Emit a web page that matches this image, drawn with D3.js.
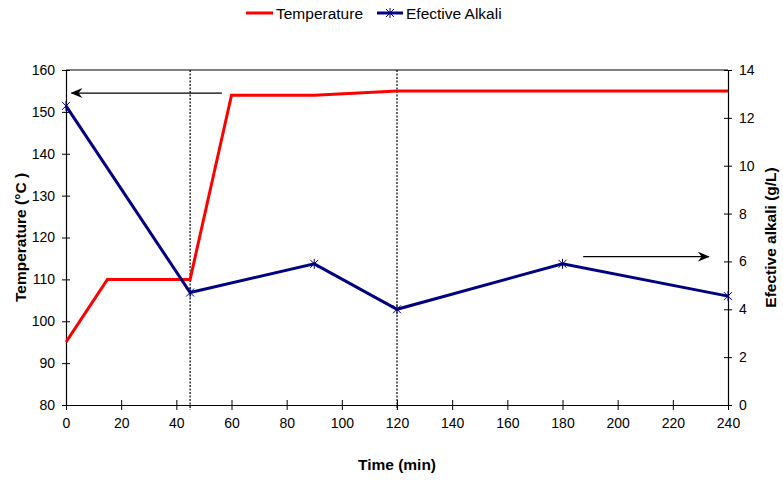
<!DOCTYPE html>
<html>
<head>
<meta charset="utf-8">
<script src="https://cdn.jsdelivr.net/npm/d3@7"></script>
<style>
body { margin: 0; background: #fff; }
text { font-family: Arial, "Liberation Sans", sans-serif; }
</style>
</head>
<body>
<div id="chart"></div>
<script>
var width = 783, height = 487

// data
const timeTicks = [0, 20, 40, 60, 80, 100, 120, 140, 160, 180, 200, 220, 240]
const tempTicks = [80, 90, 100, 110, 120, 130, 140, 150, 160]
const alkaliTicks = [0, 2, 4, 6, 8, 10, 12, 14]

const tempTime = [0, 15, 45, 60, 90, 120, 240]
const tempValues = [95, 110, 110, 154, 154, 155, 155]

const alkaliTime = [0, 45, 90, 120, 180, 240]
const alkaliValues = [12.5, 4.7, 5.9, 4.0, 5.9, 4.55]

const markerLines = [45, 120]

const margin = {top: 70, right: 55, bottom: 82, left: 66}

const svg = d3.select('#chart')
	.append('svg')
	.attr('width', width)
	.attr('height', height)

const x = d3.scaleLinear().domain([0, 240]).range([margin.left, width - margin.right])
const yT = d3.scaleLinear().domain([80, 160]).range([height - margin.bottom, margin.top])
const yA = d3.scaleLinear().domain([0, 14]).range([height - margin.bottom, margin.top])

const plotTop = margin.top, plotBottom = height - margin.bottom
const plotLeft = margin.left, plotRight = width - margin.right

// frame top
svg.append('line')
	.attr('x1', plotLeft).attr('x2', plotRight)
	.attr('y1', plotTop).attr('y2', plotTop)
	.attr('stroke', '#000').attr('stroke-width', 1)

// dotted verticals
svg.append('g').selectAll('line')
	.data(markerLines)
	.join('line')
	.attr('x1', d => x(d)).attr('x2', d => x(d))
	.attr('y1', plotTop).attr('y2', plotBottom + 5)
	.attr('stroke', '#000')
	.attr('stroke-width', 1.2)
	.attr('stroke-dasharray', '2,1.5')

// axes
function styleAxis(g) {
	g.select('.domain').attr('stroke', '#000').attr('stroke-width', 1.2)
	g.selectAll('.tick line').attr('stroke', '#000')
	g.selectAll('.tick text').attr('font-size', 14).attr('fill', '#000')
		.style('font-family', 'Arial, "Liberation Sans", sans-serif')
}

const xAxis = svg.append('g')
	.attr('transform', `translate(0,${plotBottom})`)
	.call(d3.axisBottom(x).tickValues(timeTicks).tickSize(5).tickSizeOuter(0).tickPadding(8))
	.call(styleAxis)
xAxis.selectAll('.tick line').attr('y1', -5)

const lAxis = svg.append('g')
	.attr('transform', `translate(${plotLeft},0)`)
	.call(d3.axisLeft(yT).tickValues(tempTicks).tickSize(4).tickSizeOuter(0).tickPadding(7))
	.call(styleAxis)
lAxis.selectAll('.tick line').attr('x1', 4)

const rAxis = svg.append('g')
	.attr('transform', `translate(${plotRight},0)`)
	.call(d3.axisRight(yA).tickValues(alkaliTicks).tickSize(4).tickSizeOuter(0).tickPadding(7))
	.call(styleAxis)
rAxis.selectAll('.tick line').attr('x1', -4)

// axis titles
svg.append('text')
	.attr('x', (plotLeft + plotRight) / 2).attr('y', 470)
	.attr('text-anchor', 'middle')
	.attr('font-size', 15.5).attr('font-weight', 'bold')
	.text('Time (min)')

svg.append('text')
	.attr('transform', `translate(26,${(plotTop + plotBottom) / 2}) rotate(-90)`)
	.attr('text-anchor', 'middle')
	.attr('font-size', 15.5).attr('font-weight', 'bold')
	.text('Temperature (°C )')

svg.append('text')
	.attr('transform', `translate(776,${(plotTop + plotBottom) / 2}) rotate(-90)`)
	.attr('text-anchor', 'middle')
	.attr('font-size', 15.5).attr('font-weight', 'bold')
	.text('Efective alkali (g/L)')

// arrows
svg.append('defs').append('marker')
	.attr('id', 'arrow')
	.attr('viewBox', '0 0 12 10')
	.attr('refX', 11).attr('refY', 5)
	.attr('markerWidth', 12).attr('markerHeight', 10)
	.attr('markerUnits', 'userSpaceOnUse')
	.attr('orient', 'auto')
	.append('path')
	.attr('d', 'M0,0 L12,5 L0,10 L4,5 Z')
	.attr('fill', '#000')

svg.append('line')
	.attr('x1', x(56.5)).attr('x2', x(2))
	.attr('y1', yT(154.5)).attr('y2', yT(154.5))
	.attr('stroke', '#000').attr('stroke-width', 1.3)
	.attr('marker-end', 'url(#arrow)')

svg.append('line')
	.attr('x1', x(187.5)).attr('x2', x(233))
	.attr('y1', yA(6.2)).attr('y2', yA(6.2))
	.attr('stroke', '#000').attr('stroke-width', 1.3)
	.attr('marker-end', 'url(#arrow)')

// series
const tempData = tempTime.map((t, i) => [t, tempValues[i]])
const alkaliData = alkaliTime.map((t, i) => [t, alkaliValues[i]])

svg.append('path')
	.datum(tempData)
	.attr('fill', 'none')
	.attr('stroke', '#ff0000')
	.attr('stroke-width', 3)
	.attr('d', d3.line().x(d => x(d[0])).y(d => yT(d[1])))

svg.append('path')
	.datum(alkaliData)
	.attr('fill', 'none')
	.attr('stroke', '#000080')
	.attr('stroke-width', 3)
	.attr('d', d3.line().x(d => x(d[0])).y(d => yA(d[1])))

const star = 'M-4,-4L4,4M-4,4L4,-4M0,-5L0,5'
svg.append('g').selectAll('path')
	.data(alkaliData)
	.join('path')
	.attr('transform', d => `translate(${x(d[0])},${yA(d[1])})`)
	.attr('d', star)
	.attr('stroke', '#000080')
	.attr('stroke-width', 1)
	.attr('fill', 'none')

// legend
const legend = svg.append('g').attr('font-size', 15.5)
legend.append('line')
	.attr('x1', 246).attr('x2', 273).attr('y1', 13).attr('y2', 13)
	.attr('stroke', '#ff0000').attr('stroke-width', 3)
legend.append('text').attr('x', 276).attr('y', 19).text('Temperature')
legend.append('line')
	.attr('x1', 377).attr('x2', 403).attr('y1', 13).attr('y2', 13)
	.attr('stroke', '#000080').attr('stroke-width', 3)
legend.append('path')
	.attr('transform', 'translate(390,13)')
	.attr('d', star)
	.attr('stroke', '#000080').attr('stroke-width', 1)
legend.append('text').attr('x', 406).attr('y', 19).text('Efective Alkali')
</script>
</body>
</html>
